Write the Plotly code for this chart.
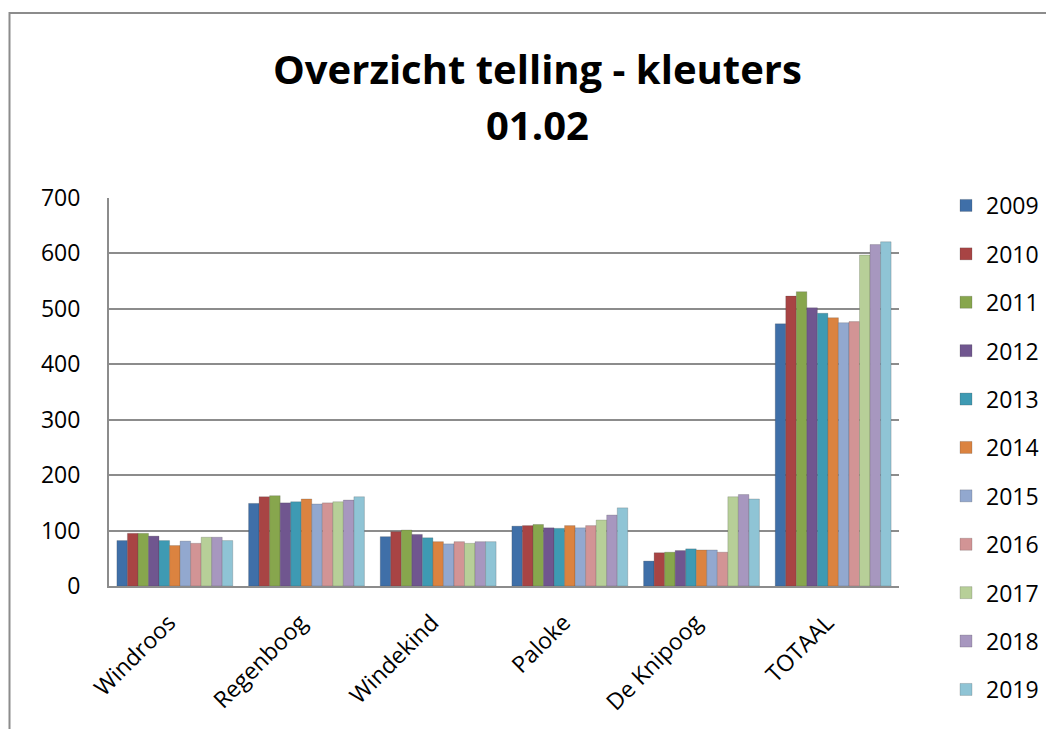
import plotly.graph_objects as go

categories = ["Windroos", "Regenboog", "Windekind", "Paloke", "De Knipoog", "TOTAAL"]
years = ["2009", "2010", "2011", "2012", "2013", "2014", "2015", "2016", "2017", "2018", "2019"]

# values per year: [Windroos, Regenboog, Windekind, Paloke, De Knipoog, TOTAAL]
v2009 = [82, 149, 89, 108, 45, 473]
v2010 = [95, 161, 98, 109, 60, 523]
v2011 = [95, 163, 101, 111, 61, 531]
v2012 = [90, 150, 93, 105, 64, 502]
v2013 = [82, 152, 87, 104, 67, 492]
v2014 = [73, 157, 80, 109, 65, 484]
v2015 = [81, 148, 76, 105, 65, 475]
v2016 = [77, 150, 80, 109, 61, 477]
v2017 = [88, 152, 77, 119, 161, 597]
v2018 = [88, 155, 80, 128, 165, 616]
v2019 = [82, 161, 80, 141, 157, 621]
series = [v2009, v2010, v2011, v2012, v2013, v2014, v2015, v2016, v2017, v2018, v2019]

colors = ["#3f6fa8", "#a84444", "#87a64d", "#70568f", "#3e9ab3", "#db8340",
          "#92a8cf", "#d29495", "#b7cf98", "#a797bf", "#8fc4d5"]

y_ticks = [0, 100, 200, 300, 400, 500, 600, 700]

FONT = "Open Sans"

fig = go.Figure()
for yr, vals, col in zip(years, series, colors):
    fig.add_trace(go.Bar(
        name=yr, x=categories, y=vals, legendgroup=yr,
        marker=dict(color=col, line=dict(color="rgba(60,60,60,0.35)", width=0.6)),
    ))

# page body has an 8px margin; figure sized so it fits the window
OFF = 8
W, H = 1054 - OFF, 729 - OFF
L, T = 109 - OFF, 198 - OFF
R = W - (899 - OFF)
B = H - (586 - OFF)
pw = W - L - R
ph = H - T - B

def px(sx):
    return (sx - OFF - L) / pw

def py(sy):
    return (H - B - (sy - OFF)) / ph

fig.update_layout(
    width=W, height=H,
    margin=dict(l=L, r=R, t=T, b=B, autoexpand=False),
    paper_bgcolor="white", plot_bgcolor="white",
    barmode="group", bargap=0.12, bargroupgap=0.0,
    font=dict(family=FONT, color="black", size=23),
    showlegend=True,
    legend=dict(
        x=px(946), xanchor="left", y=py(184), yanchor="top",
        font=dict(family=FONT, size=23, color="black"),
        tracegroupgap=15.5, itemwidth=30, maxheight=729,
        bgcolor="rgba(0,0,0,0)",
    ),
    xaxis=dict(
        tickangle=-45, showgrid=False, ticks="", automargin=False,
        showline=True, linecolor="#8c8c8c", linewidth=2,
        ticklabelshift=-6, ticklabelstandoff=12,
        tickfont=dict(family=FONT, size=23, color="black"),
    ),
    yaxis=dict(
        range=[0, 700], tickvals=y_ticks, showgrid=True, automargin=False,
        gridcolor="#8c8c8c", gridwidth=2, zeroline=False,
        showline=True, linecolor="#8c8c8c", linewidth=2,
        ticks="", ticklen=0, ticklabelstandoff=22,
        tickfont=dict(family=FONT, size=23, color="black"),
    ),
    annotations=[
        dict(text="<b>Overzicht telling - kleuters</b>", x=px(537), y=py(68),
             xref="paper", yref="paper", showarrow=False, xanchor="center", yanchor="middle",
             font=dict(family=FONT, size=40, color="black")),
        dict(text="<b>01.02</b>", x=px(537), y=py(124),
             xref="paper", yref="paper", showarrow=False, xanchor="center", yanchor="middle",
             font=dict(family=FONT, size=40, color="black")),
    ],
    shapes=[
        dict(type="rect", xref="paper", yref="paper",
             x0=px(9.5), x1=px(1080), y0=py(760), y1=py(13),
             line=dict(color="#8c8c8c", width=2), fillcolor="rgba(0,0,0,0)", layer="below"),
    ],
)

fig.write_html("out.html")
